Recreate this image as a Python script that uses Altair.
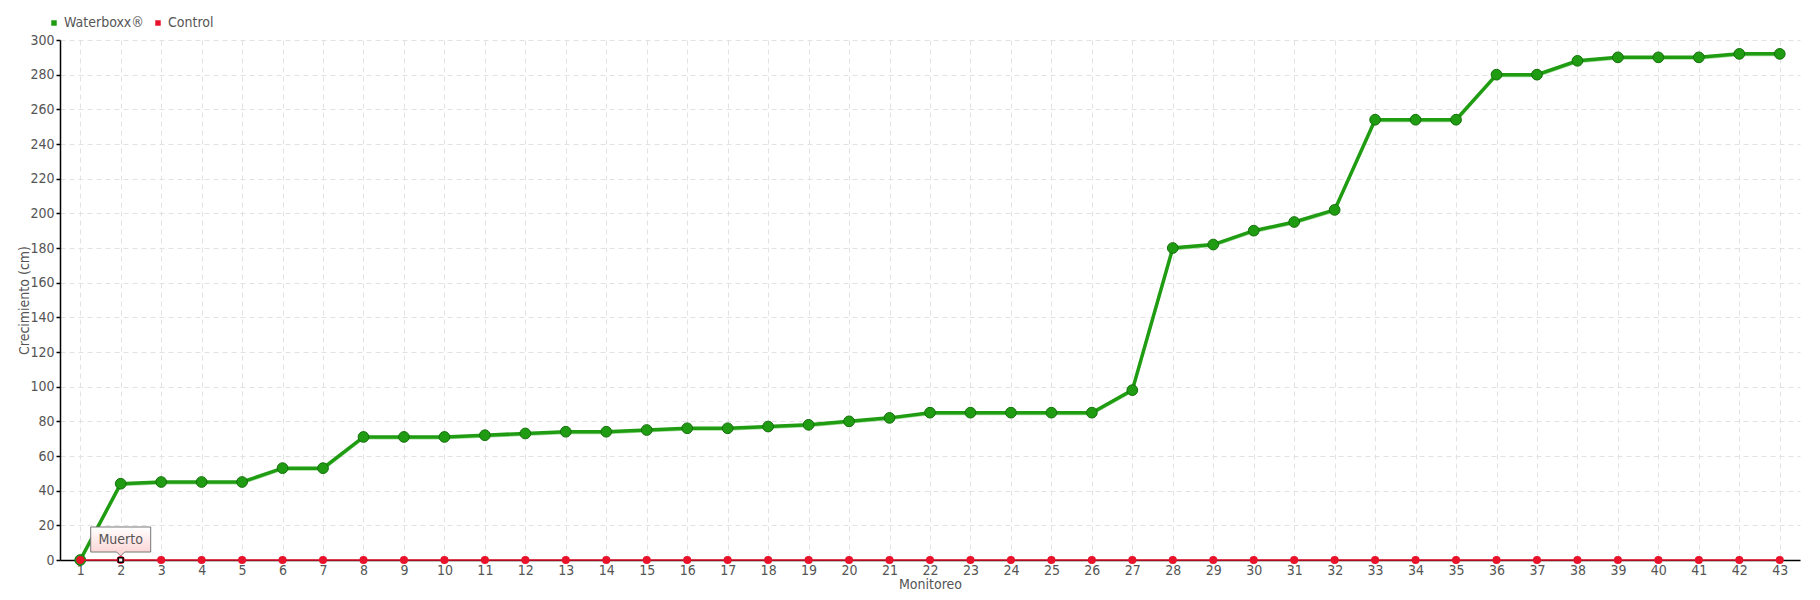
import altair as alt
import pandas as pd

# ---- data ----
monitoreo = list(range(1, 44))
waterboxx = [0, 44, 45, 45, 45, 53, 53, 71, 71, 71, 72, 73, 74, 74, 75, 76, 76, 77, 78, 80,
             82, 85, 85, 85, 85, 85, 98, 180, 182, 190, 195, 202, 254, 254, 254, 280, 280,
             288, 290, 290, 290, 292, 292]
control = [0] * 43
series_names = ["Waterboxx®", "Control"]
y_ticks = list(range(0, 301, 20))
annot_x = [2]
annot_y = [0]
annot_label = ["Muerto"]

GREEN = "#1f9c12"
RED = "#e8122b"
FONT = "DejaVu Sans Condensed, Liberation Sans Narrow, DejaVu Sans"

df = pd.DataFrame({
    "Monitoreo": monitoreo * 2,
    "Crecimiento": waterboxx + control,
    "Serie": [series_names[0]] * len(monitoreo) + [series_names[1]] * len(monitoreo),
})
annot = pd.DataFrame({"Monitoreo": annot_x, "Crecimiento": annot_y, "label": annot_label})

x = alt.X("Monitoreo:Q",
          scale=alt.Scale(domain=[0.5, 43.5], nice=False, zero=False),
          axis=alt.Axis(values=monitoreo, title="Monitoreo", ticks=False, labelPadding=3,
                        labelOverlap=False, titleY=24, titleBaseline="middle", gridDash=[5, 4]))
y = alt.Y("Crecimiento:Q",
          scale=alt.Scale(domain=[0, 300], nice=False),
          axis=alt.Axis(values=y_ticks, title="Crecimiento (cm)", tickSize=4, tickWidth=1.5,
                        tickColor="black", labelPadding=2, labelOverlap=False,
                        labelFlush=False, titleX=-36, titleY=260,
                        titleAlign="center", titleBaseline="middle", gridDash=[5, 4]))
color_scale = alt.Scale(domain=series_names, range=[GREEN, RED])
legend = alt.Legend(title=None, orient="none", legendX=-13, legendY=-24,
                    direction="horizontal", symbolType="square",
                    symbolSize=30, symbolStrokeWidth=0, symbolOpacity=1,
                    labelFont=FONT, labelFontSize=14, labelColor="#555",
                    labelOffset=3, columnPadding=7)
color = alt.Color("Serie:N", scale=color_scale, legend=legend)

base = alt.Chart(df).encode(x=x, y=y)
wb = base.transform_filter(alt.datum.Serie == series_names[0])
ct = base.transform_filter(alt.datum.Serie == series_names[1])

shadow = wb.mark_line(strokeWidth=2, color="#7ccf70", opacity=0.7, yOffset=1.5)
green_line = wb.mark_line(strokeWidth=3.5).encode(color=color)
green_pts = wb.mark_point(filled=True, size=115, opacity=1, stroke="#13700a",
                          strokeWidth=1).encode(color=color)
red_line = ct.mark_line(strokeWidth=1.5).encode(color=color)
red_pts = ct.mark_point(filled=True, size=65, opacity=1).encode(color=color)

abase = alt.Chart(annot).encode(x=x, y=y)
marker = abase.mark_point(shape="square", size=22, filled=True, fill="white",
                          stroke="black", strokeWidth=1.5, opacity=1)
box = abase.mark_point(
    shape="M-1,-0.417H1V0.417H0.133L0,0.55L-0.133,0.417H-1Z",
    size=3600, filled=True, opacity=1, stroke="#777", strokeWidth=1, yOffset=-20.5,
    fill=alt.Gradient(gradient="linear", x1=0, y1=0, x2=0, y2=1,
                      stops=[alt.GradientStop(color="#ffffff", offset=0),
                             alt.GradientStop(color="#fbd0d0", offset=1)]))
box_text = abase.mark_text(font=FONT, fontSize=14, color="#555", baseline="middle",
                           align="center", yOffset=-20.5).encode(text="label:N")

chart = alt.layer(shadow, green_line, green_pts, red_line, red_pts, marker, box, box_text).properties(
    width=1740, height=520,
    autosize=alt.AutoSizeParams(type="none"),
    padding={"left": 52, "top": 32, "right": 12, "bottom": 34},
).configure_view(stroke=None).configure_axis(
    labelFont=FONT, labelFontSize=14, labelColor="#555", labelOverlap=False,
    titleFont=FONT, titleFontSize=14, titleColor="#555", titleFontWeight="normal",
    gridColor="#e2e2e2", domainColor="black", domainWidth=1.5,
)

chart.save("out.html", embed_options={"renderer": "svg", "actions": False})
